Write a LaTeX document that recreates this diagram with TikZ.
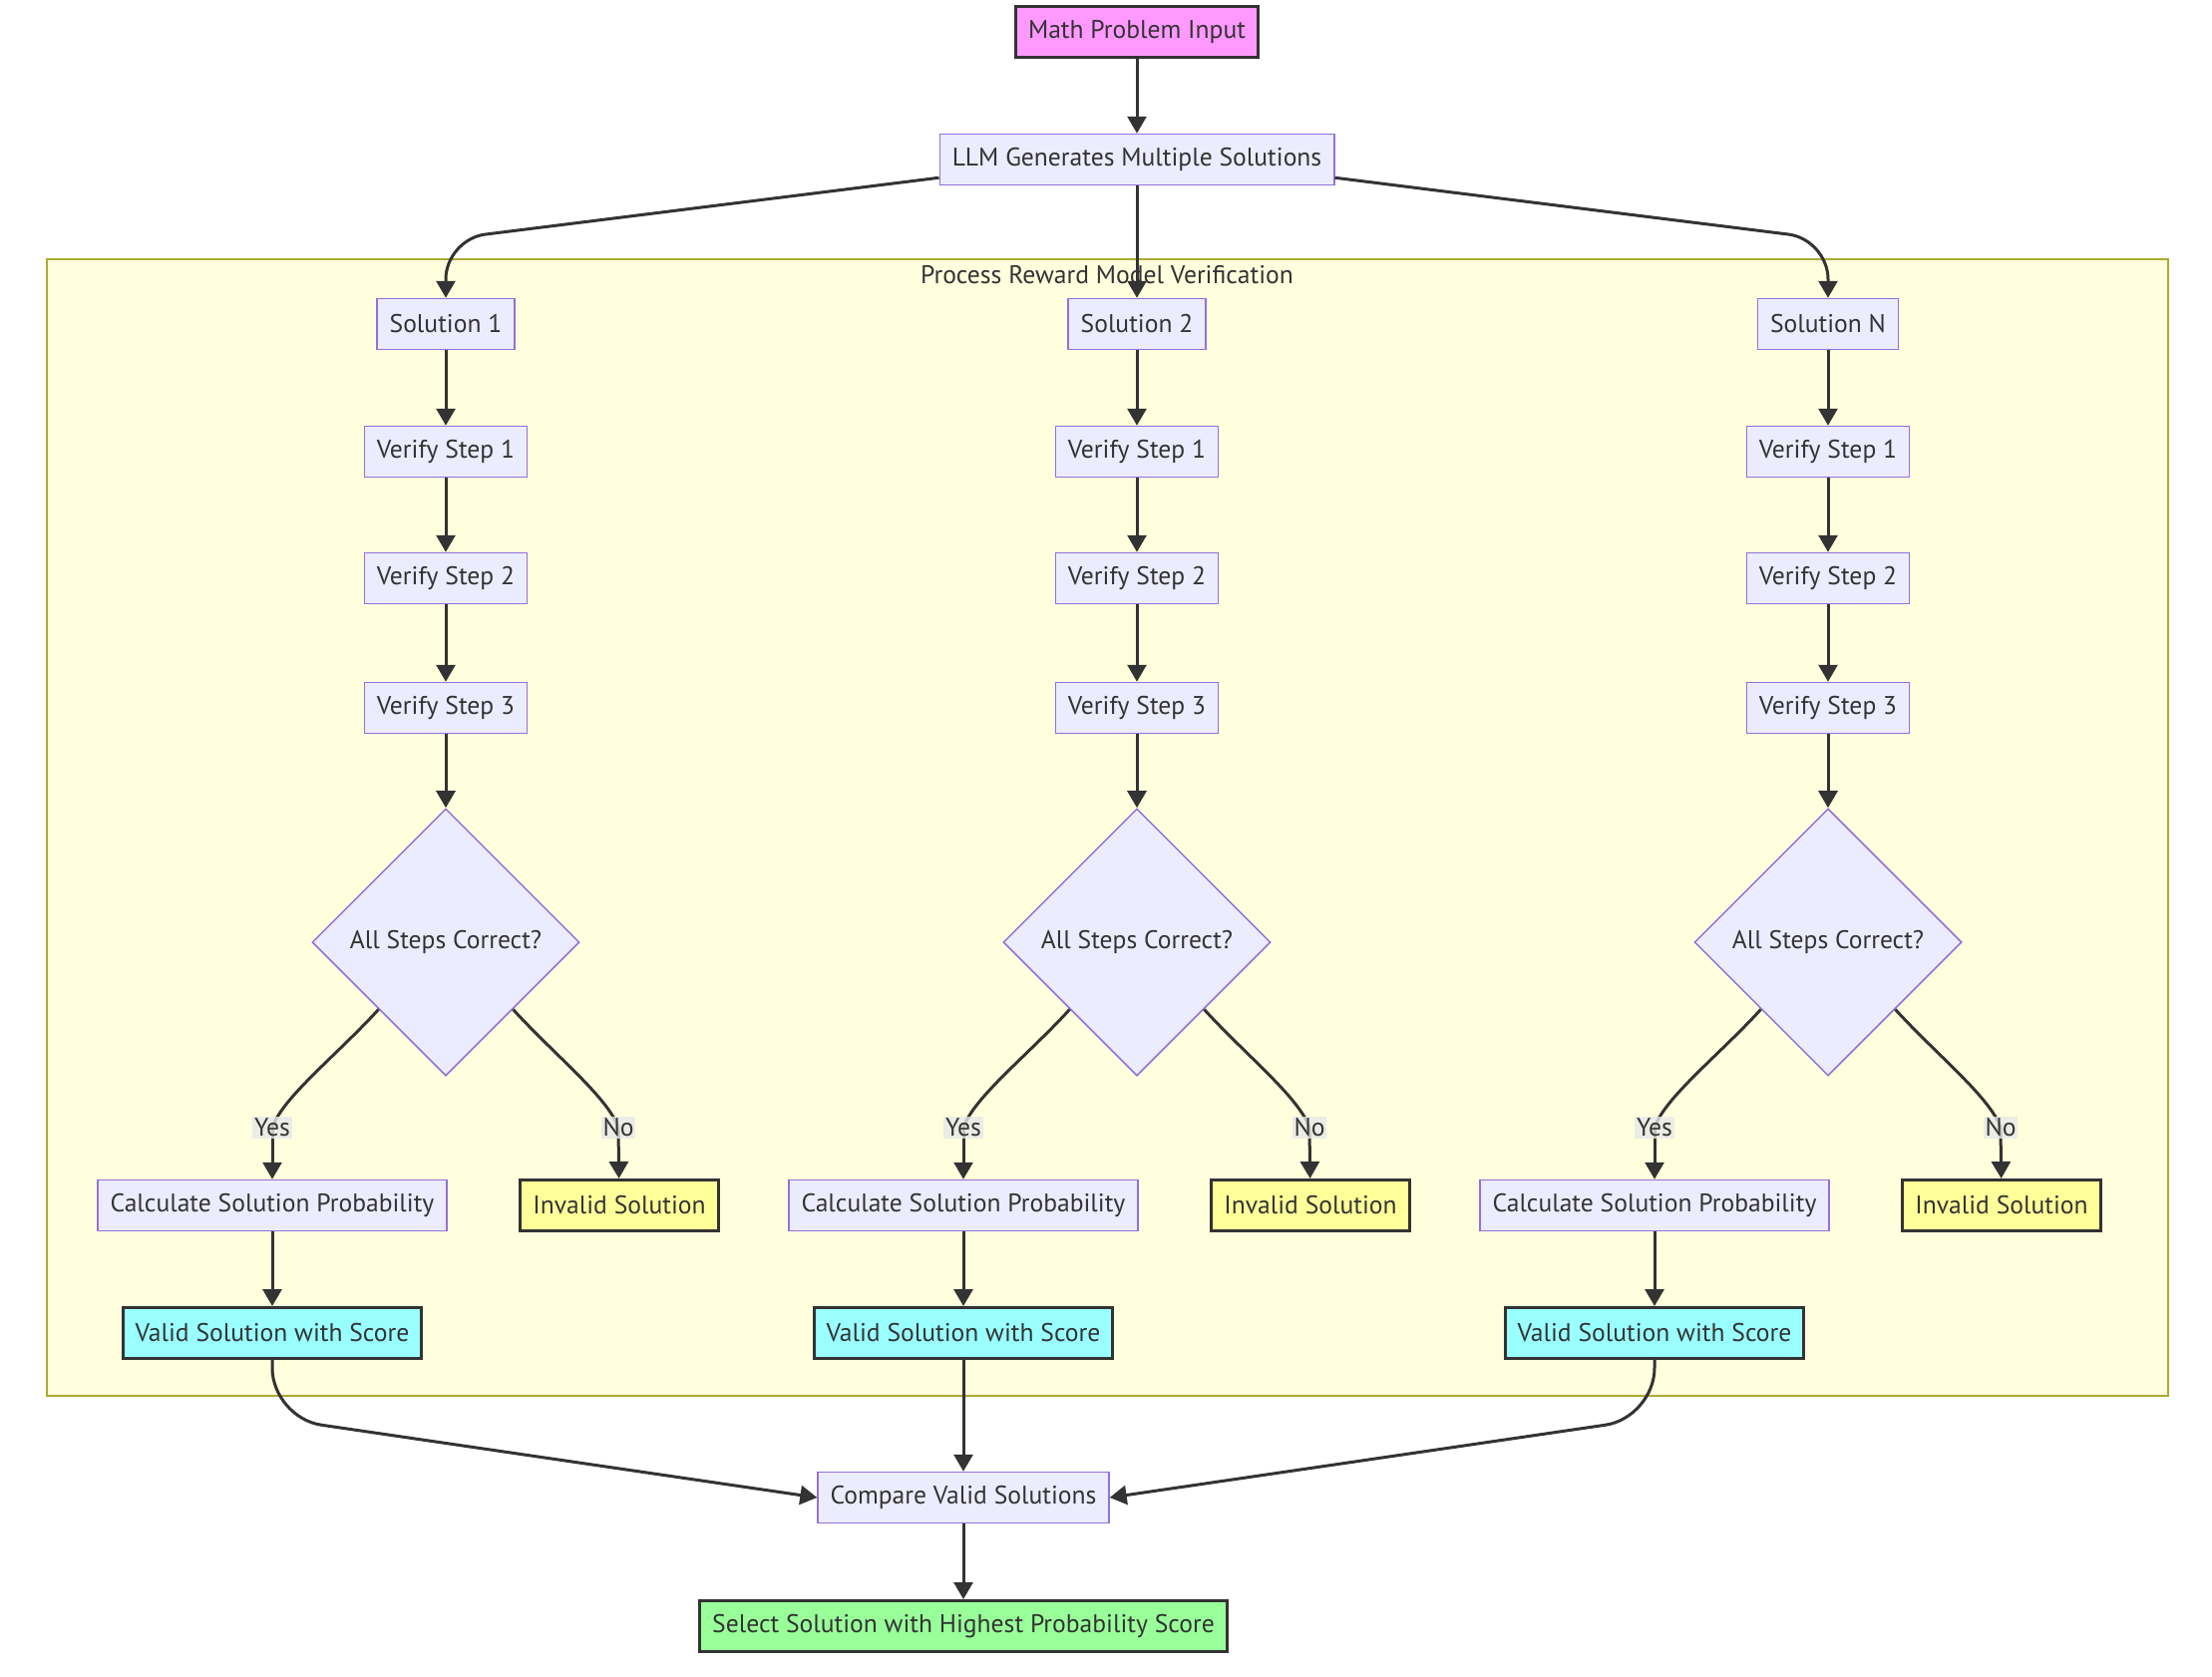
\documentclass[tikz,border=0pt]{standalone}
\usepackage{fontspec}
\setmainfont{PT Sans}
\usetikzlibrary{arrows.meta,shapes.geometric,calc}
\definecolor{inkGray}{HTML}{333333}
\definecolor{boxFill}{HTML}{ECECFF}
\definecolor{boxLine}{HTML}{9370DB}
\definecolor{inputFill}{HTML}{FF99FF}
\definecolor{invalidFill}{HTML}{FFFF99}
\definecolor{validFill}{HTML}{99FFFF}
\definecolor{bestFill}{HTML}{99FF99}
\definecolor{clusterFill}{HTML}{FFFFDE}
\definecolor{clusterLine}{HTML}{AAAA33}
\definecolor{labelFill}{HTML}{E8E8E8}
\newcommand{\solutionColumn}[3]{%%
  %% The solution and its checked steps.
  \node[boxStyle] (sol#1) at (#2,-325) {Solution #3};
  \node[boxStyle] (stepA#1) at (#2,-453) {Verify Step 1};
  \node[boxStyle] (stepB#1) at (#2,-580) {Verify Step 2};
  \node[boxStyle] (stepC#1) at (#2,-710) {Verify Step 3};
  \node[decisionStyle] (check#1) at (#2,-945) {All Steps Correct?};
  \draw[arrowStyle] (sol#1) -- (stepA#1);
  \draw[arrowStyle] (stepA#1) -- (stepB#1);
  \draw[arrowStyle] (stepB#1) -- (stepC#1);
  \draw[arrowStyle] (stepC#1) -- (check#1);
  %% The two outcomes.
  \node[boxStyle] (prob#1) at (#2-174,-1209) {Calculate Solution Probability};
  \node[invalidStyle] (invalid#1) at (#2+174,-1209) {Invalid Solution};
  \node[validStyle] (valid#1) at (#2-174,-1337) {Valid Solution with Score};
  \coordinate (yesAt#1) at (#2-174,-1131);
  \coordinate (noAt#1) at (#2+173,-1131);
  \draw[lineStyle] (check#1.south west) .. controls +(-42,-46) and +(10,30) .. (yesAt#1);
  \draw[arrowStyle] (yesAt#1) -- (prob#1);
  \draw[lineStyle] (check#1.south east) .. controls +(42,-46) and +(-10,30) .. (noAt#1);
  \draw[arrowStyle] (noAt#1) -- (invalid#1);
  \node[labelStyle] (yes#1) at (yesAt#1) {Yes};
  \node[labelStyle] (no#1) at (noAt#1) {No};
  \draw[arrowStyle] (prob#1) -- (valid#1);
}

\begin{document}
\begin{tikzpicture}[%%
  x=0.5pt,y=0.5pt,%%
  font=\fontsize{12.8}{15}\selectfont,%%
  boxStyle/.style={draw=boxLine,fill=boxFill,line width=0.75pt,text=inkGray,minimum height=25.5pt,inner xsep=6.25pt,inner ysep=0pt},%%
  strongStyle/.style={boxStyle,draw=inkGray,line width=1.5pt},%%
  inputStyle/.style={strongStyle,fill=inputFill},%%
  invalidStyle/.style={strongStyle,fill=invalidFill},%%
  validStyle/.style={strongStyle,fill=validFill},%%
  bestStyle/.style={strongStyle,fill=bestFill},%%
  decisionStyle/.style={diamond,aspect=1,draw=boxLine,fill=boxFill,line width=0.75pt,text=inkGray,minimum width=134pt,minimum height=134pt,inner sep=0pt},%%
  labelStyle/.style={fill=labelFill,fill opacity=0.8,text opacity=1,text=inkGray,inner sep=1pt},%%
  lineStyle/.style={draw=inkGray,line width=1.5pt},%%
  arrowStyle/.style={lineStyle,-{Triangle[length=8.5pt,width=9.5pt]}},%%
  clusterStyle/.style={draw=clusterLine,fill=clusterFill,line width=0.75pt}
]
%%
%%
\fill[white] (0,0) rectangle (2218,-1682);
\useasboundingbox (0,0) rectangle (2218,-1682);
%%
%% The verification group.
\draw[clusterStyle] (47,-260) rectangle (2174,-1400);
\node[text=inkGray] (groupTitle) at (1110,-276) {Process Reward Model Verification};
%%
%% The input and the generator.
\node[inputStyle] (input) at (1140,-32) {Math Problem Input};
\node[boxStyle] (llm) at (1140,-160) {LLM Generates Multiple Solutions};
\draw[arrowStyle] (input) -- (llm);
%%
%% One column for each solution.
\foreach \i/\x/\n in {1/447/1,2/1140/2,3/1833/N}{
  \solutionColumn{\i}{\x}{\n}
};
%%
%% From the generator to the solutions.
\draw[arrowStyle,rounded corners=20] ($(llm.south west)+(0,8)$) -- (447,-240) -- (sol1.north);
\draw[arrowStyle] (llm) -- (sol2);
\draw[arrowStyle,rounded corners=20] ($(llm.south east)+(0,8)$) -- (1833,-240) -- (sol3.north);
%%
%% Comparing and selecting.
\node[boxStyle] (compare) at (966,-1502) {Compare Valid Solutions};
\node[bestStyle] (best) at (966,-1631) {Select Solution with Highest Probability Score};
\draw[arrowStyle,rounded corners=25] (valid1.south) -- (273,-1422) -- (compare.west);
\draw[arrowStyle] (valid2) -- (compare);
\draw[arrowStyle,rounded corners=25] (valid3.south) -- (1659,-1422) -- (compare.east);
\draw[arrowStyle] (compare) -- (best);
\end{tikzpicture}
\end{document}
